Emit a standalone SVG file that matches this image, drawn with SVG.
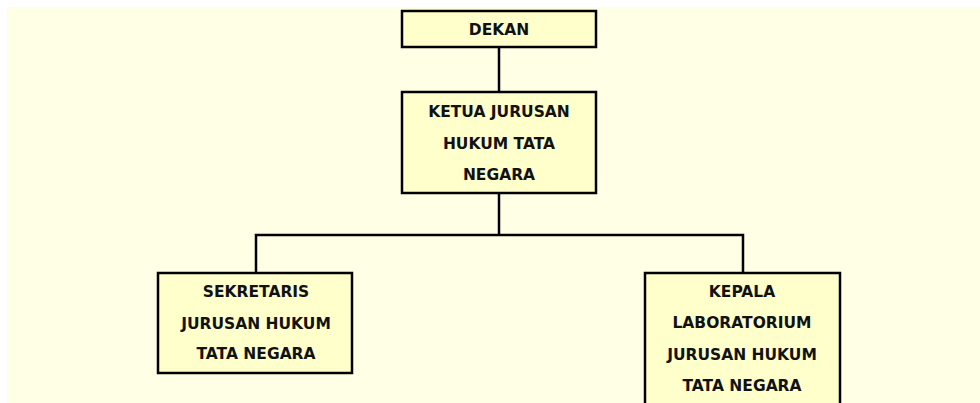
<svg xmlns="http://www.w3.org/2000/svg" width="980" height="403" viewBox="0 0 980 403">
<style>
.box{fill:#ffffcc;stroke:#000;stroke-width:2.5}
.t{font-family:"DejaVu Sans",Verdana,sans-serif;font-weight:bold;font-size:15.5px;fill:#111;text-anchor:middle}
.c{fill:none;stroke:#000;stroke-width:2.5}
</style>
<rect x="0" y="0" width="980" height="403" fill="#ffffff"/>
<rect x="7" y="7" width="973" height="396" fill="#ffffe6"/>
<g id="connectors">
<line class="c" x1="499" y1="48" x2="499" y2="91"/>
<polyline class="c" points="499,194 499,235"/>
<polyline class="c" points="256,272 256,235 743,235 743,272"/>
</g>
<g id="dekan">
<rect class="box" x="402" y="11" width="194" height="36"/>
<text class="t" x="499" y="35">DEKAN</text>
</g>
<g id="ketua">
<rect class="box" x="402" y="92" width="194" height="101"/>
<text class="t" x="499" y="117">KETUA JURUSAN</text>
<text class="t" x="499" y="149">HUKUM TATA</text>
<text class="t" x="499" y="180">NEGARA</text>
</g>
<g id="sekretaris">
<rect class="box" x="158" y="273" width="194" height="100"/>
<text class="t" x="256" y="297">SEKRETARIS</text>
<text class="t" x="256" y="329">JURUSAN HUKUM</text>
<text class="t" x="256" y="359">TATA NEGARA</text>
</g>
<g id="kepala">
<rect class="box" x="645" y="273" width="195" height="140"/>
<text class="t" x="742" y="297">KEPALA</text>
<text class="t" x="742" y="328">LABORATORIUM</text>
<text class="t" x="742" y="360">JURUSAN HUKUM</text>
<text class="t" x="742" y="391">TATA NEGARA</text>
</g>
</svg>
